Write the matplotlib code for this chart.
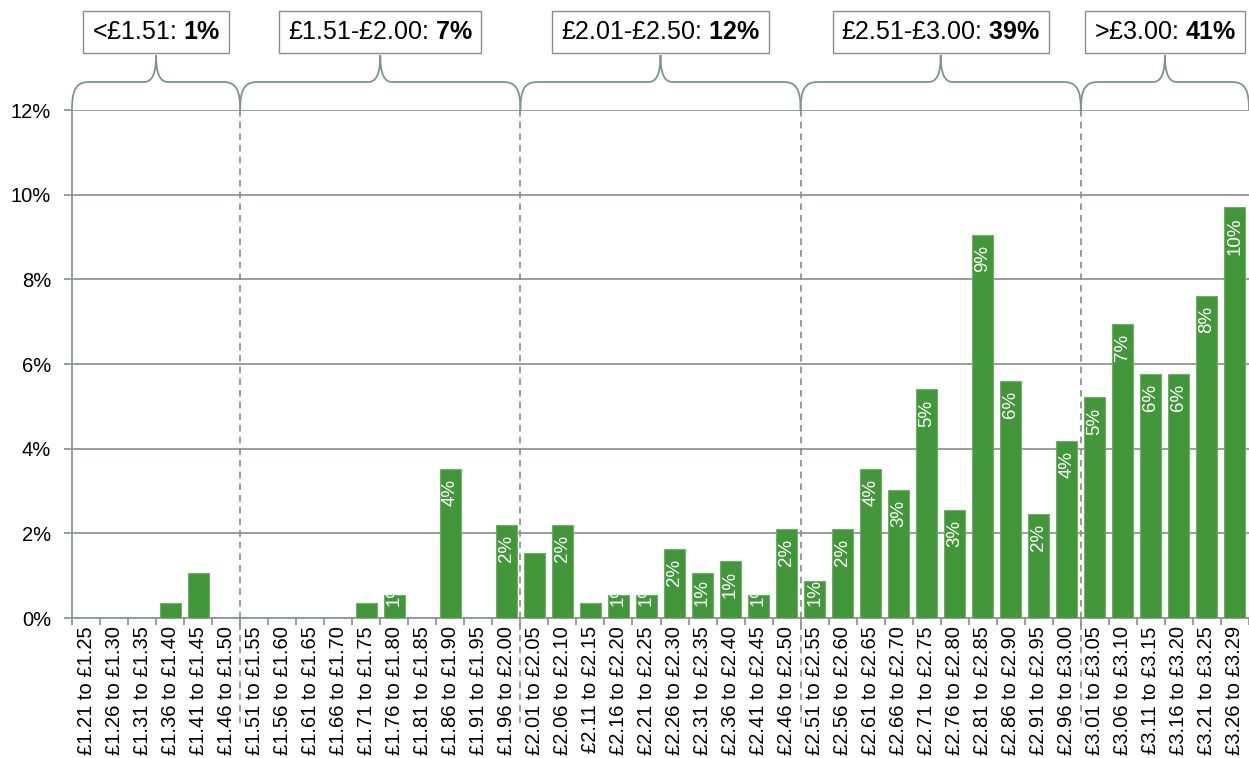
import matplotlib
matplotlib.use("Agg")
import matplotlib.pyplot as plt
from matplotlib.path import Path
from matplotlib.patches import PathPatch

plt.rcParams["font.family"] = ["Liberation Sans", "DejaVu Sans"]
plt.rcParams["mathtext.fontset"] = "custom"
plt.rcParams["mathtext.rm"] = "Liberation Sans"
plt.rcParams["mathtext.bf"] = "Liberation Sans:bold"

# === Data ===
price_bands = [
    "£1.21 to £1.25", "£1.26 to £1.30", "£1.31 to £1.35", "£1.36 to £1.40",
    "£1.41 to £1.45", "£1.46 to £1.50", "£1.51 to £1.55", "£1.56 to £1.60",
    "£1.61 to £1.65", "£1.66 to £1.70", "£1.71 to £1.75", "£1.76 to £1.80",
    "£1.81 to £1.85", "£1.86 to £1.90", "£1.91 to £1.95", "£1.96 to £2.00",
    "£2.01 to £2.05", "£2.06 to £2.10", "£2.11 to £2.15", "£2.16 to £2.20",
    "£2.21 to £2.25", "£2.26 to £2.30", "£2.31 to £2.35", "£2.36 to £2.40",
    "£2.41 to £2.45", "£2.46 to £2.50", "£2.51 to £2.55", "£2.56 to £2.60",
    "£2.61 to £2.65", "£2.66 to £2.70", "£2.71 to £2.75", "£2.76 to £2.80",
    "£2.81 to £2.85", "£2.86 to £2.90", "£2.91 to £2.95", "£2.96 to £3.00",
    "£3.01 to £3.05", "£3.06 to £3.10", "£3.11 to £3.15", "£3.16 to £3.20",
    "£3.21 to £3.25", "£3.26 to £3.29",
]
share_pct = [
    0, 0, 0, 0.36, 1.06, 0,
    0, 0, 0, 0, 0.36, 0.55, 0, 3.52, 0, 2.2,
    1.54, 2.2, 0.36, 0.55, 0.55, 1.63, 1.06, 1.34, 0.55, 2.1,
    0.87, 2.1, 3.52, 3.03, 5.40, 2.55, 9.04, 5.59, 2.45, 4.17,
    5.21, 6.95, 5.77, 5.77, 7.61, 9.70,
]
bar_labels = [
    "", "", "", "", "", "",
    "", "", "", "", "", "1%", "", "4%", "", "2%",
    "", "2%", "", "1%", "1%", "2%", "1%", "1%", "1%", "2%",
    "1%", "2%", "4%", "3%", "5%", "3%", "9%", "6%", "2%", "4%",
    "5%", "7%", "6%", "6%", "8%", "10%",
]
group_names = ["<£1.51:", "£1.51-£2.00:", "£2.01-£2.50:", "£2.51-£3.00:", ">£3.00:"]
group_totals = ["1%", "7%", "12%", "39%", "41%"]
group_sizes = [6, 10, 10, 10, 6]

GREEN = "#43973b"
GRID = "#8f9694"
BRACE = "#7d958b"

# === Figure ===
W, H = 1249, 758
fig = plt.figure(figsize=(W / 100, H / 100), dpi=100)
ax = fig.add_axes([72 / W, 140 / H, (W - 72) / W, 508 / H])

n = len(price_bands)
x = list(range(n))
ax.bar(x, share_pct, width=0.75, color=GREEN, edgecolor="#6fb066",
       linewidth=0.8, zorder=3)

ax.set_xlim(-0.5, n - 0.5)
ax.set_ylim(0, 12)
ax.set_yticks(range(0, 13, 2))
ax.set_yticklabels([f"{v}%" for v in range(0, 13, 2)], fontsize=14.5)
ax.grid(axis="y", color=GRID, linewidth=1.3, zorder=0)
ax.tick_params(axis="y", length=6, color=GRID, width=1.3, pad=9)

ax.set_xticks(x)
ax.set_xticklabels(price_bands, rotation=90, fontsize=14.5)
ax.set_xticks([i - 0.5 for i in range(n + 1)], minor=True)
ax.tick_params(axis="x", which="major", length=0, pad=6)
ax.tick_params(axis="x", which="minor", length=5, color=GRID, width=1.3)

for side in ["top", "right"]:
    ax.spines[side].set_visible(False)
for side in ["left", "bottom"]:
    ax.spines[side].set_color(GRID)
    ax.spines[side].set_linewidth(1.3)

fig.canvas.draw()
renderer = fig.canvas.get_renderer()
px_per_cat = ax.bbox.width / n
px_per_pct = ax.bbox.height / 12

# === Value labels inside bars ===
min_y = 12 / px_per_pct
for i, (v, s) in enumerate(zip(share_pct, bar_labels)):
    if not s:
        continue
    t = ax.text(i, v - 10 / px_per_pct, s, rotation=90, ha="center", va="top",
                color="white", fontsize=13.5, zorder=4)
    bb = t.get_window_extent(renderer)
    base = ax.transData.transform((0, 0))[1]
    if bb.y0 < base + 12:
        t.set_va("bottom")
        t.set_y(min_y)

# === Group separators, braces and boxes ===
start = -0.5
for name, tot, size in zip(group_names, group_totals, group_sizes):
    end = start + size
    if end < n - 0.5:
        ax.plot([end, end], [12, -109 / px_per_pct], color="#8a8a8a",
                linestyle=(0, (4, 3)), linewidth=1.2, clip_on=False, zorder=5)
    xc = (start + end) / 2
    dx = lambda p: p / px_per_cat
    dy = lambda p: 12 + p / px_per_pct
    yb, yh, yt = dy(0), dy(28), dy(55)
    verts = [
        (start, yb), (start, dy(20)), (start + dx(4), yh), (start + dx(17), yh),
        (xc - dx(12), yh),
        (xc - dx(4), yh), (xc, dy(36)), (xc, yt),
        (xc, dy(36)), (xc + dx(4), yh), (xc + dx(12), yh),
        (end - dx(17), yh),
        (end - dx(4), yh), (end, dy(20)), (end, yb),
    ]
    codes = [Path.MOVETO, Path.CURVE4, Path.CURVE4, Path.CURVE4, Path.LINETO,
             Path.CURVE4, Path.CURVE4, Path.CURVE4,
             Path.CURVE4, Path.CURVE4, Path.CURVE4, Path.LINETO,
             Path.CURVE4, Path.CURVE4, Path.CURVE4]
    ax.add_patch(PathPatch(Path(verts, codes), fill=False, edgecolor=BRACE,
                           linewidth=1.3, clip_on=False))
    pct = tot.replace("%", r"\%")
    ax.text(xc, dy(78), f"{name} $\\mathbf{{{pct}}}$", ha="center", va="center",
            fontsize=18, clip_on=False,
            bbox=dict(boxstyle="square,pad=0.35", facecolor="white",
                      edgecolor="#8c8c8c", linewidth=1))
    start = end

fig.savefig("out.png", dpi=100)
plt.close(fig)
